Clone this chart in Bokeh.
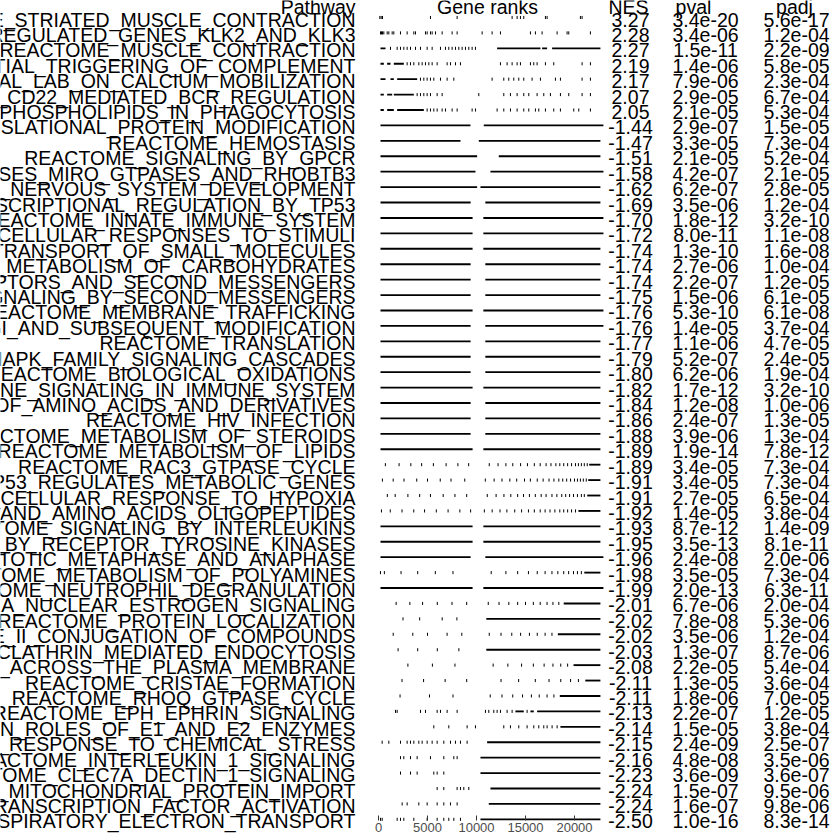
from bokeh.plotting import figure
from bokeh.models import Range1d
from bokeh.core.properties import value
from bokeh.embed import file_html
from bokeh.resources import INLINE

pathways = [
    "REACTOME_STRIATED_MUSCLE_CONTRACTION",
    "REACTOME_ACTIVATED_PKN1_STIMULATES_TRANSCRIPTION_OF_AR_ANDROGEN_RECEPTOR_REGULATED_GENES_KLK2_AND_KLK3",
    "REACTOME_MUSCLE_CONTRACTION",
    "REACTOME_INITIAL_TRIGGERING_OF_COMPLEMENT",
    "REACTOME_ROLE_OF_LAT2_NTAL_LAB_ON_CALCIUM_MOBILIZATION",
    "REACTOME_CD22_MEDIATED_BCR_REGULATION",
    "REACTOME_ROLE_OF_PHOSPHOLIPIDS_IN_PHAGOCYTOSIS",
    "REACTOME_POST_TRANSLATIONAL_PROTEIN_MODIFICATION",
    "REACTOME_HEMOSTASIS",
    "REACTOME_SIGNALING_BY_GPCR",
    "REACTOME_SIGNALING_BY_RHO_GTPASES_MIRO_GTPASES_AND_RHOBTB3",
    "REACTOME_NERVOUS_SYSTEM_DEVELOPMENT",
    "REACTOME_TRANSCRIPTIONAL_REGULATION_BY_TP53",
    "REACTOME_INNATE_IMMUNE_SYSTEM",
    "REACTOME_CELLULAR_RESPONSES_TO_STIMULI",
    "REACTOME_TRANSPORT_OF_SMALL_MOLECULES",
    "REACTOME_METABOLISM_OF_CARBOHYDRATES",
    "REACTOME_SIGNALING_BY_RECEPTORS_AND_SECOND_MESSENGERS",
    "REACTOME_INTRACELLULAR_SIGNALING_BY_SECOND_MESSENGERS",
    "REACTOME_MEMBRANE_TRAFFICKING",
    "REACTOME_TRANSPORT_TO_THE_GOLGI_AND_SUBSEQUENT_MODIFICATION",
    "REACTOME_TRANSLATION",
    "REACTOME_MAPK_FAMILY_SIGNALING_CASCADES",
    "REACTOME_BIOLOGICAL_OXIDATIONS",
    "REACTOME_CYTOKINE_SIGNALING_IN_IMMUNE_SYSTEM",
    "REACTOME_METABOLISM_OF_AMINO_ACIDS_AND_DERIVATIVES",
    "REACTOME_HIV_INFECTION",
    "REACTOME_METABOLISM_OF_STEROIDS",
    "REACTOME_METABOLISM_OF_LIPIDS",
    "REACTOME_RAC3_GTPASE_CYCLE",
    "REACTOME_TP53_REGULATES_METABOLIC_GENES",
    "REACTOME_CELLULAR_RESPONSE_TO_HYPOXIA",
    "REACTOME_TRANSPORT_OF_INORGANIC_CATIONS_ANIONS_AND_AMINO_ACIDS_OLIGOPEPTIDES",
    "REACTOME_SIGNALING_BY_INTERLEUKINS",
    "REACTOME_SIGNALING_BY_RECEPTOR_TYROSINE_KINASES",
    "REACTOME_MITOTIC_METAPHASE_AND_ANAPHASE",
    "REACTOME_METABOLISM_OF_POLYAMINES",
    "REACTOME_NEUTROPHIL_DEGRANULATION",
    "REACTOME_EXTRA_NUCLEAR_ESTROGEN_SIGNALING",
    "REACTOME_PROTEIN_LOCALIZATION",
    "REACTOME_PHASE_II_CONJUGATION_OF_COMPOUNDS",
    "REACTOME_CLATHRIN_MEDIATED_ENDOCYTOSIS",
    "REACTOME_ION_HOMEOSTASIS_ACROSS_THE_PLASMA_MEMBRANE",
    "REACTOME_CRISTAE_FORMATION",
    "REACTOME_RHOQ_GTPASE_CYCLE",
    "REACTOME_EPH_EPHRIN_SIGNALING",
    "REACTOME_SYNTHESIS_OF_ACTIVE_UBIQUITIN_ROLES_OF_E1_AND_E2_ENZYMES",
    "REACTOME_CELLULAR_RESPONSE_TO_CHEMICAL_STRESS",
    "REACTOME_INTERLEUKIN_1_SIGNALING",
    "REACTOME_CLEC7A_DECTIN_1_SIGNALING",
    "REACTOME_MITOCHONDRIAL_PROTEIN_IMPORT",
    "REACTOME_DECTIN_1_MEDIATED_TRANSCRIPTION_FACTOR_ACTIVATION",
    "REACTOME_RESPIRATORY_ELECTRON_TRANSPORT",
]

nes = ["3.27", "2.28", "2.27", "2.19", "2.17", "2.07", "2.05", "-1.44", "-1.47", "-1.51",
       "-1.58", "-1.62", "-1.69", "-1.70", "-1.72", "-1.74", "-1.74", "-1.74", "-1.75", "-1.76",
       "-1.76", "-1.77", "-1.79", "-1.80", "-1.82", "-1.84", "-1.86", "-1.88", "-1.89", "-1.89",
       "-1.91", "-1.91", "-1.92", "-1.93", "-1.95", "-1.96", "-1.98", "-1.99", "-2.01", "-2.02",
       "-2.02", "-2.03", "-2.08", "-2.11", "-2.11", "-2.13", "-2.14", "-2.15", "-2.16", "-2.23",
       "-2.24", "-2.24", "-2.50"]

pval = ["3.4e-20", "3.4e-06", "1.5e-11", "1.4e-06", "7.9e-06", "2.9e-05", "2.1e-05", "2.9e-07", "3.3e-05", "2.1e-05",
        "4.2e-07", "6.2e-07", "3.5e-06", "1.8e-12", "8.0e-11", "1.3e-10", "2.7e-06", "2.2e-07", "1.5e-06", "5.3e-10",
        "1.4e-05", "1.1e-06", "5.2e-07", "6.2e-06", "1.7e-12", "1.2e-08", "2.4e-07", "3.9e-06", "1.9e-14", "3.4e-05",
        "3.4e-05", "2.7e-05", "1.4e-05", "8.7e-12", "3.5e-13", "2.4e-08", "3.5e-05", "2.0e-13", "6.7e-06", "7.8e-08",
        "3.5e-06", "1.3e-07", "2.2e-05", "1.3e-05", "1.8e-06", "2.2e-07", "1.5e-05", "2.4e-09", "4.8e-08", "3.6e-09",
        "1.5e-07", "1.6e-07", "1.0e-16"]

padj = ["5.6e-17", "1.2e-04", "2.2e-09", "5.8e-05", "2.3e-04", "6.7e-04", "5.3e-04", "1.5e-05", "7.3e-04", "5.2e-04",
        "2.1e-05", "2.8e-05", "1.2e-04", "3.2e-10", "1.1e-08", "1.6e-08", "1.0e-04", "1.2e-05", "6.1e-05", "6.1e-08",
        "3.7e-04", "4.7e-05", "2.4e-05", "1.9e-04", "3.2e-10", "1.0e-06", "1.3e-05", "1.3e-04", "7.8e-12", "7.3e-04",
        "7.3e-04", "6.5e-04", "3.8e-04", "1.4e-09", "8.1e-11", "2.0e-06", "7.3e-04", "6.3e-11", "2.0e-04", "5.3e-06",
        "1.2e-04", "8.7e-06", "5.4e-04", "3.6e-04", "7.0e-05", "1.2e-05", "3.8e-04", "2.5e-07", "3.5e-06", "3.6e-07",
        "9.5e-06", "9.8e-06", "8.3e-14"]

# individual gene positions in the ranked list (estimated), one list per pathway
rank_ticks = [
    [136, 272, 408, 5304, 8024, 13634, 14144, 14484, 14824, 17034, 17204, 20604, 20774],
    [204, 306, 408, 544, 884, 1054, 1394, 1564, 2244, 2924, 3604, 3774, 4794, 4964, 5304, 5474, 5814, 6494, 7514, 8024,
     10574, 11594, 12444, 15504, 16014, 16694, 18224, 19244, 19414, 21624],
    [1224, 1904, 2244, 2584, 2924, 3264, 3774, 4284, 4964, 5474, 6324, 6834, 7174, 7514, 7854, 8194, 8534, 8874, 9214,
     9554, 9894],
    [2924, 3264, 3604, 4114, 4454, 4794, 5134, 5474, 5984, 7004, 7344, 7854, 8364, 12444, 13124, 13634, 14144, 14484,
     15504, 15844, 16184, 17034, 17884, 20774, 21624],
    [4284, 4624, 4964, 5304, 5644, 6324, 7004, 7684, 11594, 12784, 13294, 13804, 14314, 14824, 15674, 16524, 18054,
     18564, 20774, 21624],
    [3944, 4284, 4624, 4964, 5304, 5984, 6494, 10234, 12784, 13464, 14144, 14824, 15334, 16184, 16864, 17544, 18564,
     19414, 20774, 21624],
    [4964, 5304, 5644, 5984, 6494, 6834, 7514, 8024, 9554, 9894, 12104, 12784, 13464, 14144, 14824, 15334, 16014, 16354,
     17034, 17884, 18564, 19924, 20434, 21624],
    [], [], [], [], [], [], [], [], [], [], [], [], [], [], [], [], [], [], [], [], [], [],
    [700, 2100, 3300, 4400, 5600, 6900, 8100, 9200, 11300, 12200, 13000, 13700, 14500, 15200, 15900, 16500, 17100,
     17600, 18100, 18500, 18900, 19300, 19700, 20100, 20400, 20700, 21000, 21300],
    [400, 1500, 2600, 3900, 5000, 6300, 7400, 8800, 10900, 11800, 12600, 13400, 14100, 14900, 15500, 16200, 16800,
     17400, 17900, 18400, 18800, 19200, 19600, 20000, 20300, 20600, 20900, 21200],
    [900, 1700, 3000, 4200, 5300, 6600, 7800, 9000, 11100, 12000, 12800, 13500, 14200, 14800, 15400, 16000, 16600,
     17100, 17700, 18200, 18700, 19100, 19500, 19900, 20300, 20700, 21000],
    [300, 1200, 2400, 3600, 4700, 5900, 7100, 8300, 9400, 10800, 11600, 12400, 13100, 13900, 14600, 15300, 15900,
     16500, 17000, 17500, 18000, 18500, 18900, 19300, 19700, 20100],
    [], [], [],
    [200, 600, 2300, 4000, 5800, 7600, 11500, 13000, 14200, 15300, 16200, 17000, 17700, 18300, 18900, 19400, 19900,
     20300, 20700],
    [],
    [1800, 3200, 4500, 6000, 7500, 9000, 11200, 12300, 13300, 14200, 15000, 15800, 16500, 17200, 17800, 18400],
    [2500, 4200, 6500, 8000],
    [1500, 3500, 5000, 7000, 8500, 11300, 12500, 13600, 14500, 15400, 16200, 17000, 17700],
    [2000, 4000, 6000, 8200],
    [3000, 5500, 7800, 11700, 13200, 14600, 15800, 16900, 17800, 18600, 19300],
    [2400, 4600, 6800, 9000, 12500, 14300, 16000, 17400, 18600, 19600, 20400],
    [2200, 5200, 7600, 11400, 12600, 13700, 14700, 15600, 16400, 17200, 17900],
    [1734, 1904, 4284, 4794, 5984, 6324, 7004, 8024, 10914, 11254, 11764, 12104, 12444, 13124, 13634, 15164],
    [5644, 7174, 9044, 9894, 12784, 13464, 14314, 15164, 15844, 16354, 16864, 17204, 17714, 18224],
    [374, 1054, 2244, 2924, 3264, 3604, 4114, 4454, 4964, 5474, 5984, 6664, 7344, 7854, 8364, 9044],
    [2244, 2584, 3264, 3944, 5304, 6664, 7684, 8024],
    [2244, 3264, 3944, 5644, 5984, 6664],
    [5984, 6664, 8024, 8364, 8704, 9214],
    [2414, 2924, 4114, 4964, 5984, 6664, 7344, 8024],
    [204, 374, 1904, 2244, 2584, 3604, 4964, 5984, 6664, 7174, 7684, 8364],
]

# dense runs of genes that merge into a solid band (start rank, end rank)
rank_spans = [
    [],
    [],
    [(204, 714), (12104, 16524), (16694, 17204), (17714, 22644)],
    [(204, 544), (884, 1224), (1564, 2584)],
    [(204, 714), (1224, 1564), (1904, 3944)],
    [(204, 544), (884, 1394), (1564, 3604)],
    [(204, 544), (884, 1564), (1904, 4624)],
    [(204, 9384), (10744, 22950)],
    [(204, 8364), (10234, 22644)],
    [(204, 10064), (12274, 22644)],
    [(204, 9894), (11424, 22950)],
    [(204, 10064), (10404, 22644)],
    [(204, 9400), (10900, 22644)],
    [(204, 9600), (10700, 22950)],
    [(204, 9600), (10700, 22950)],
    [(204, 9600), (10700, 22644)],
    [(204, 9400), (10900, 22644)],
    [(204, 9400), (10900, 22644)],
    [(204, 9400), (10900, 22644)],
    [(204, 9600), (10700, 22950)],
    [(204, 9400), (10900, 22950)],
    [(204, 9400), (10900, 22644)],
    [(204, 9400), (10900, 22644)],
    [(204, 9400), (10900, 22644)],
    [(204, 9600), (10700, 22644)],
    [(204, 9400), (10900, 22644)],
    [(204, 9400), (10900, 22644)],
    [(204, 9400), (10900, 22644)],
    [(204, 9600), (10700, 22644)],
    [(21500, 22644)],
    [(21400, 22644)],
    [(21300, 22644)],
    [(20400, 22644)],
    [(204, 9600), (10700, 22644)],
    [(204, 9600), (10700, 22644)],
    [(204, 9400), (10900, 22950)],
    [(21000, 22644)],
    [(204, 9600), (10700, 22950)],
    [(18900, 22644)],
    [(11000, 22644)],
    [(18300, 22644)],
    [(11000, 22644)],
    [(19900, 22644)],
    [(21100, 22644)],
    [(18500, 22644)],
    [(13974, 14824), (15504, 15844), (16184, 22644)],
    [(18564, 22644)],
    [(11084, 22644)],
    [(10404, 22644)],
    [(10404, 22644)],
    [(11424, 22644)],
    [(11254, 22644)],
    [(10404, 22644)],
]

headers = ["Pathway", "Gene ranks", "NES", "pval", "padj"]
rank_axis_ticks = [0, 5000, 10000, 15000, 20000]
rank_axis_labels = ["0", "5000", "10000", "15000", "20000"]

# ---------------- layout ----------------
ROW0_PX, ROW_PX = 19.0, 15.42
FONT = value("Liberation Sans")
FS = "19.5px"


def row_of(px):
    return 1 + (px - ROW0_PX) / ROW_PX


p = figure(width=840, height=840, output_backend="svg", toolbar_location=None,
           x_range=Range1d(0, 840), y_range=Range1d(row_of(840), row_of(0)),
           x_axis_type=None, y_axis_type=None, min_border=0)
p.grid.visible = False
p.outline_line_color = None
p.background_fill_color = "white"
p.border_fill_color = "white"

# gene-rank column: rank 0 at x=378, 0.0098 px per rank
R0, RPX = 378.0, 0.0098
p.extra_x_ranges = {"ranks": Range1d(-R0 / RPX, (840 - R0) / RPX)}

n = len(pathways)
rows = list(range(1, n + 1))

# headers
hy = row_of(6)
p.text(x=[355], y=[hy], text=[headers[0]], text_align="right", text_baseline="middle",
       text_font=FONT, text_font_size=FS, text_color="black")
p.text(x=[487, 628, 693, 794], y=[hy] * 4, text=headers[1:], text_align="center",
       text_baseline="middle", text_font=FONT, text_font_size=FS, text_color="black")

# pathway names
p.text(x=[355] * n, y=rows, text=pathways, text_align="right", text_baseline="middle",
       text_font=FONT, text_font_size=FS, text_color="black")
# numbers
for xc, col in [(630, nes), (705, pval), (796, padj)]:
    p.text(x=[xc] * n, y=rows, text=col, text_align="center", text_baseline="middle",
           text_font=FONT, text_font_size=FS, text_color="black")

# gene rank rugs
TOFF, TH = -0.13, 0.1
tx, ty0, ty1 = [], [], []
for r, ticks in zip(rows, rank_ticks):
    for t in ticks:
        tx.append(t)
        ty0.append(r + TOFF - TH)
        ty1.append(r + TOFF + TH)
p.segment(x0=tx, y0=ty0, x1=tx, y1=ty1, x_range_name="ranks", line_color="black", line_width=1)

sl, sr, st, sb = [], [], [], []
for r, spans in zip(rows, rank_spans):
    for a, b in spans:
        sl.append(a)
        sr.append(b)
        st.append(r + TOFF - 0.06)
        sb.append(r + TOFF + 0.06)
p.quad(left=sl, right=sr, top=st, bottom=sb, x_range_name="ranks", fill_color="black",
       line_color=None)

# rank axis (ticks + labels) at the bottom of the gene-rank column
ay0, ay1, aly = row_of(815), row_of(820), row_of(827)
p.segment(x0=rank_axis_ticks, y0=[ay0] * 5, x1=rank_axis_ticks, y1=[ay1] * 5,
          x_range_name="ranks", line_color="#333333", line_width=1)
p.text(x=rank_axis_ticks, y=[aly] * 5, text=rank_axis_labels, x_range_name="ranks",
       text_align="center", text_baseline="middle", text_font=FONT, text_font_size="13px",
       text_color="#4d4d4d")

open("out.html", "w").write(file_html(p, INLINE))
